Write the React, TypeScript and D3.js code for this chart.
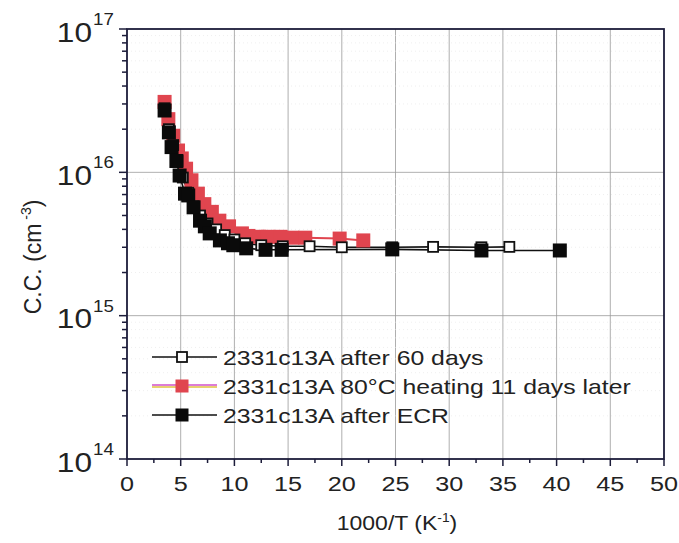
import * as d3 from 'd3';
import React from 'react';

// chart data
const after60X = [3.5, 3.9, 4.3, 4.7, 5.2, 5.7, 6.2, 6.8, 7.5, 8.3, 9.1, 10.0, 11.0, 12.5, 14.5, 17.0, 20.0, 24.7, 28.5, 33.0, 35.6];
const after60Y = [2.8e16, 2.0e16, 1.55e16, 1.2e16, 9.2e15, 7.2e15, 5.8e15, 5.0e15, 4.4e15, 4.0e15, 3.65e15, 3.4e15, 3.2e15, 3.1e15, 3.05e15, 3.05e15, 3.0e15, 3.0e15, 3.02e15, 3.0e15, 3.02e15];

const heatX = [3.5, 3.85, 4.3, 4.75, 5.1, 5.5, 6.0, 6.6, 7.2, 7.9, 8.6, 9.5, 10.7, 11.3, 12.3, 13.1, 14.3, 15.4, 16.6, 19.8, 22.0];
const heatY = [3.1e16, 2.35e16, 1.8e16, 1.42e16, 1.25e16, 1.06e16, 8.8e15, 7.1e15, 6.0e15, 5.3e15, 4.6e15, 4.2e15, 3.75e15, 3.6e15, 3.55e15, 3.55e15, 3.55e15, 3.5e15, 3.5e15, 3.45e15, 3.35e15];

const ecrX = [3.5, 3.9, 4.15, 4.6, 4.9, 5.4, 5.7, 6.2, 6.8, 7.25, 7.7, 8.65, 9.4, 9.9, 11.1, 12.9, 14.4, 24.7, 33.0, 40.3];
const ecrY = [2.7e16, 1.9e16, 1.5e16, 1.2e16, 9.5e15, 7.1e15, 6.9e15, 5.7e15, 4.6e15, 4.2e15, 3.75e15, 3.35e15, 3.2e15, 3.1e15, 2.95e15, 2.88e15, 2.88e15, 2.9e15, 2.85e15, 2.85e15];

const xTicks = [0, 5, 10, 15, 20, 25, 30, 35, 40, 45, 50];
const yExponents = [14, 15, 16, 17];
const legendLabels = ['2331c13A after 60 days', '2331c13A 80°C heating 11 days later', '2331c13A after ECR'];

const W = 679, H = 543;
const font = '"Liberation Sans", Arial, sans-serif';
const ink = '#222';
const axisInk = '#1c1c3a';
const red = '#e0454f';

const x = d3.scaleLinear().domain([0, 50]).range([127, 664]);
const y = d3.scaleLog().domain([1e14, 1e17]).range([459, 29]);

const zip = (xs, ys) => xs.map((v, i) => [v, ys[i]]);
const line = d3.line().x(d => x(d[0])).y(d => y(d[1]));

// the scanned text is a bit wider than it is tall
const Txt = ({x: tx, y: ty, sx = 1.2, anchor = 'start', size, children}) => (
    <g transform={`translate(${tx},${ty}) scale(${sx},1)`}>
        <text textAnchor={anchor} fontSize={size} fill={ink}>{children}</text>
    </g>
);

export default function App() {
    const ecr = zip(ecrX, ecrY);
    const heat = zip(heatX, heatY);
    const after60 = zip(after60X, after60Y);

    const minorY = [];
    for (let e = 14; e < 17; e++) for (let m = 2; m <= 9; m++) minorY.push(m * Math.pow(10, e));
    const minorX = d3.range(2.5, 50, 5);

    const big = 14, small = 10;

    return (
        <div style={{position: 'fixed', left: 0, top: 0}}>
            <svg width={W} height={H} style={{display: 'block', background: '#fff'}} fontFamily={font}>
                {/* grid */}
                <g stroke="#9a9a9a" strokeWidth={0.8}>
                    {xTicks.slice(1, -1).map(t => <line key={t} x1={x(t)} x2={x(t)} y1={y(1e17)} y2={y(1e14)} />)}
                    {[1e15, 1e16].map(t => <line key={t} x1={x(0)} x2={x(50)} y1={y(t)} y2={y(t)} />)}
                </g>
                <g stroke="#e4e4e4" strokeWidth={0.6} strokeDasharray="1,3">
                    {minorY.map(t => <line key={t} x1={x(0)} x2={x(50)} y1={y(t)} y2={y(t)} />)}
                </g>

                {/* series lines */}
                <path d={line(heat)} fill="none" stroke={red} strokeWidth={2} />
                <path d={line(ecr)} fill="none" stroke="#111" strokeWidth={1.6} />
                <path d={line(after60)} fill="none" stroke="#111" strokeWidth={1.6} />

                {/* markers: the open squares sit under the filled ones */}
                {heat.map((d, i) => <rect key={'h' + i} x={x(d[0]) - big / 2} y={y(d[1]) - big / 2} width={big} height={big} fill={red} />)}
                {after60.map((d, i) => <rect key={'a' + i} x={x(d[0]) - small / 2} y={y(d[1]) - small / 2} width={small} height={small} fill="#fff" stroke="#111" strokeWidth={1.8} />)}
                {ecr.map((d, i) => <rect key={'e' + i} x={x(d[0]) - big / 2} y={y(d[1]) - big / 2} width={big} height={big} fill="#0a0a0a" />)}

                {/* legend */}
                <g>
                    {legendLabels.map((lab, i) => {
                        const ly = 357 + i * 29;
                        return (
                            <g key={lab}>
                                {i === 1 ? (
                                    <g>
                                        <line x1={152} x2={217} y1={ly - 1} y2={ly - 1} stroke="#d050c8" strokeWidth={1.6} />
                                        <line x1={152} x2={217} y1={ly + 1} y2={ly + 1} stroke="#e0c040" strokeWidth={1.6} />
                                        <rect x={182 - 13 / 2} y={ly - 13 / 2} width={13} height={13} fill={red} />
                                    </g>
                                ) : (
                                    <g>
                                        <line x1={152} x2={217} y1={ly} y2={ly} stroke="#111" strokeWidth={1.6} />
                                        {i === 0
                                            ? <rect x={182 - small / 2} y={ly - small / 2} width={small} height={small} fill="#fff" stroke="#111" strokeWidth={1.8} />
                                            : <rect x={182 - 13 / 2} y={ly - 13 / 2} width={13} height={13} fill="#0a0a0a" />}
                                    </g>
                                )}
                                <Txt x={223} y={ly + 7.5} size={20} sx={1.24}>{lab}</Txt>
                            </g>
                        );
                    })}
                </g>

                {/* frame */}
                <rect x={x(0)} y={y(1e17)} width={x(50) - x(0)} height={y(1e14) - y(1e17)} fill="none" stroke={axisInk} strokeWidth={1.8} />

                {/* x axis ticks */}
                <g stroke={axisInk} strokeWidth={1.5}>
                    {xTicks.map(t => <line key={t} x1={x(t)} x2={x(t)} y1={y(1e14)} y2={y(1e14) + 7} />)}
                    {minorX.map(t => <line key={t} x1={x(t)} x2={x(t)} y1={y(1e14)} y2={y(1e14) + 4} />)}
                </g>
                {xTicks.map(t => (
                    <Txt key={t} x={x(t)} y={491} anchor="middle" size={21}>{t}</Txt>
                ))}
                <Txt x={397} y={530} anchor="middle" size={20} sx={1.15}>
                    1000/T (K<tspan dy={-8} fontSize={12}>-1</tspan><tspan dy={8}>)</tspan>
                </Txt>

                {/* y axis ticks */}
                <g stroke={axisInk} strokeWidth={1.5}>
                    {yExponents.map(e => <line key={e} x1={x(0) - 8} x2={x(0)} y1={y(Math.pow(10, e))} y2={y(Math.pow(10, e))} />)}
                    {minorY.map(t => <line key={t} x1={x(0) - 5} x2={x(0)} y1={y(t)} y2={y(t)} />)}
                </g>
                {yExponents.map(e => (
                    <g key={e}>
                        <Txt x={92} y={y(Math.pow(10, e)) + 12.5} anchor="end" size={28} sx={1.13}>10</Txt>
                        <Txt x={93} y={y(Math.pow(10, e)) - 4} size={17} sx={1.1}>{e}</Txt>
                    </g>
                ))}
                <text transform={`translate(41,257) rotate(-90)`} textAnchor="middle" fontSize={23} fill={ink}>
                    C.C. (cm<tspan dy={-10} fontSize={14}> -3</tspan><tspan dy={10}>)</tspan>
                </text>
            </svg>
        </div>
    );
}
